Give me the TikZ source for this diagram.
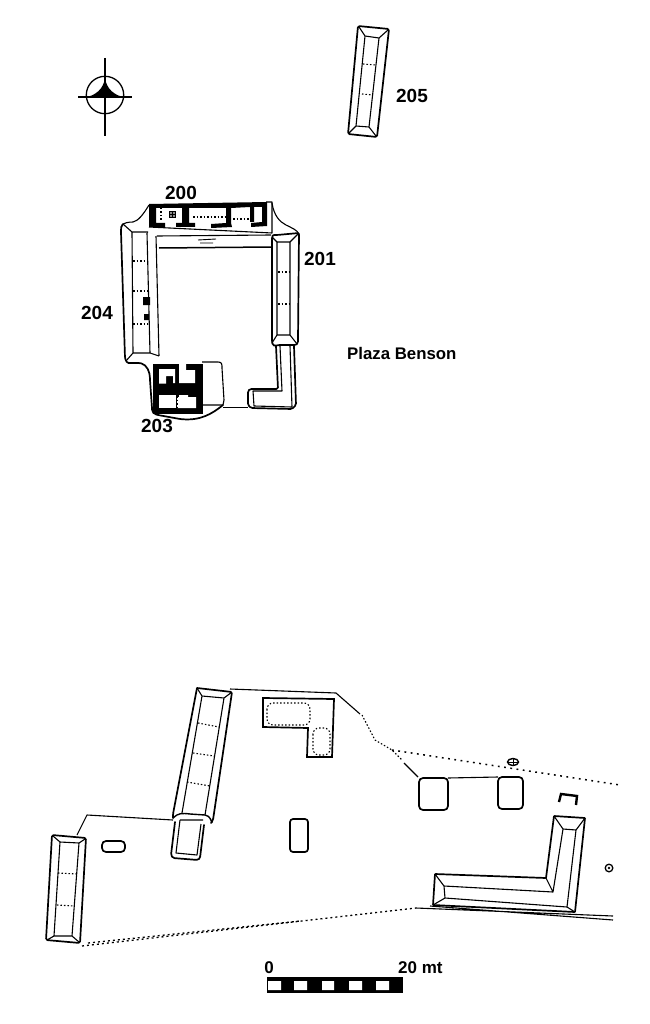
\documentclass[tikz,border=0pt]{standalone}
\usepackage{fontspec}
\setmainfont{Liberation Sans}
\tikzset{
 x=1pt,y=-1pt,
 lab/.style={font=\bfseries\fontsize{19}{19}\selectfont,inner sep=0pt},
 wall/.style={line width=1.7pt,line join=round,line cap=round,rounded corners=1.5pt},
 thin line/.style={line width=1.1pt,line join=round},
 dots/.style={line width=1.1pt,dash pattern=on 1.5pt off 2pt},
 bigdots/.style={line width=1.5pt,dash pattern=on 1.8pt off 4.5pt},
 basedots/.style={line width=1.3pt,dash pattern=on 2pt off 3pt},
}
\begin{document}
\begin{tikzpicture}
\useasboundingbox (0,0) rectangle (649,1024);
% north sign
\fill (105,76) .. controls (105,84) and (110,94) .. (123,97) -- (87,97) .. controls (100,94) and (105,84) .. (105,76) -- cycle;
\draw[line width=1.3pt] (105,95) circle (18.7);
\draw[line width=1.6pt] (105,58) -- (105,136) (78,97) -- (132,97);
% 205
\draw[wall] (358,26) -- (389,29) -- (377,137) -- (348,134) -- cycle;
\draw[thin line] (365,36) -- (379,38) -- (369,127) -- (356,126) -- cycle (359,27) -- (365,36) (388,30) -- (379,38) (369,127) -- (376,136) (356,126) -- (349,133);
\draw[dots] (363,64) -- (376,65) (362,94) -- (373,95);
\node[lab] (n205) at (412,96) {205};
% 200
\node[lab] (n200) at (181,193) {200};
\fill (149,204) -- (267,202) -- (267,226) -- (251,227) -- (251,223) -- (262,222) -- (262,207) -- (254,207) -- (254,222) -- (250,222) -- (250,207) -- (231,208) -- (231,223) -- (232,227) -- (211,228) -- (211,224) -- (226,223) -- (226,208) -- (189,208) -- (189,223) -- (195,223) -- (195,227) -- (176,227) -- (176,223) -- (182,223) -- (182,208) -- (156,208) -- (156,223) -- (165,223) -- (165,227) -- (149,227) -- cycle;
\draw[dots] (161,208) -- (161,222) (193,217) -- (225,217) (233,219) -- (250,219);
\draw[line width=0.5pt,fill=black!45] (169,211) rectangle (175,217);
\draw[line width=0.7pt] (172,211) -- (172,217) (169,214) -- (175,214);
\draw[thin line] (149,227) -- (272,233) -- (272,202) -- (266,202);
\draw[thin line] (149,205) .. controls (143,215) and (138,221) .. (133,222) .. controls (128,222) and (124,223) .. (122,225);
\draw[thin line] (272,203) .. controls (274,216) and (280,222) .. (286,225) .. controls (292,228) and (297,230) .. (299,234);
\draw[thin line] (157,236) -- (271,235);
\draw[line width=1.5pt] (159,248) -- (271,247);
\draw[line width=0.9pt] (198,240) -- (216,239) (200,243) -- (213,243);
% 204
\draw[wall] (123,224) .. controls (121,226) and (121,228) .. (121,232) -- (125,358) .. controls (126,361) and (127,363) .. (130,363) -- (140,363) .. controls (147,365) and (150,372) .. (150,380) -- (152,408) .. controls (152,412) and (154,414) .. (158,415) -- (180,419) .. controls (200,421) and (212,414) .. (223,405);
\draw[thin line] (132,232) -- (148,232) (147,233) -- (150,353) (156,236) -- (159,356) (132,232) -- (133,353) -- (150,353) -- (159,356) (123,224) -- (132,232) (133,353) -- (126,361);
\draw[dots] (133,261) -- (147,261) (133,291) -- (148,291) (133,324) -- (148,324);
\fill (143,297) rectangle (150,305) (144,314) rectangle (149,320);
\node[lab] (n204) at (97,313) {204};
% 201
\draw[wall] (272,237) .. controls (273,235) and (275,235) .. (277,235) -- (299,233) -- (298,340) .. controls (298,344) and (296,345) .. (293,345) -- (278,345) .. controls (275,346) and (273,346) .. (272,342) -- cycle;
\draw[thin line] (277,242) -- (290,242) -- (290,335) -- (277,335) -- cycle (272,237) -- (277,242) (299,233) -- (290,242) (277,335) -- (272,343) (290,335) -- (297,344);
\draw[dots] (278,272) -- (289,272) (278,304) -- (289,304);
\node[lab] (n201) at (320,259) {201};
% L platform
\draw[wall] (276,346) -- (278,389) -- (250,389) -- (248,391) -- (248,405) -- (251,408) -- (292,409) -- (296,405) -- (294,346);
\draw[thin line] (280,346) -- (282,391) -- (253,391) -- (254,406) -- (292,407) -- (290,346);
\draw[line width=0.9pt] (223,407) -- (248,407);
% 203
\fill (153,364) rectangle (203,414);
\fill[white] (159,369) rectangle (175,376) (159,376) rectangle (166,383.5) (173,376) rectangle (175,383);
\fill[white] (179,362) rectangle (186,383) (186,370) rectangle (195,383);
\fill[white] (159,395) rectangle (176,408);
\fill[white] (177,397) rectangle (196,408) (179,395) rectangle (188,397);
\draw[dots,line width=0.6pt] (177,396) -- (177,408);
\draw[thin line] (202,362) -- (218,362) .. controls (222,362) and (222,364) .. (222,368) -- (224,400) -- (223,405) -- (203,405);
\node[lab] (n203) at (157,426) {203};
\node[font=\bfseries\fontsize{16.8}{17}\selectfont,anchor=west,inner sep=0pt] (plaza) at (347,353) {Plaza Benson};
% lower left mound
\draw[wall] (52,835) -- (86,838) -- (80,943) -- (46,940) -- cycle;
\draw[thin line] (60,842) -- (79,843) -- (72,936) -- (54,936) -- cycle (53,836) -- (60,842) (85,839) -- (79,843) (54,936) -- (47,940) (72,936) -- (79,942);
\draw[dots] (58,873) -- (77,874) (57,905) -- (74,906);
% central mound
\draw[wall] (197,688) -- (232,692) -- (213,820) -- (211,823) (197,688) -- (173,814) -- (173,818);
\draw[thin line] (202,696) -- (224,698) -- (205,815) (202,696) -- (182,813) (197,688) -- (202,696) (232,692) -- (224,698);
\draw[line width=1.4pt] (173,818) .. controls (178,813) and (182,813) .. (190,814) -- (205,815) .. controls (210,816) and (211,820) .. (212,823);
\draw[dots] (198,723) -- (219,727) (193,753) -- (214,756) (187,782) -- (210,786);
% front platform
\draw[wall] (175,822) -- (171,855) -- (173,858) -- (198,860) -- (200,858) -- (204,825);
\draw[thin line] (180,820) -- (203,820) (180,820) -- (176,853) -- (197,855) -- (201,824);
% lines
\draw[thin line] (77,835) -- (87,815) -- (173,820);
\draw[thin line] (230,689) -- (336,693) -- (360,714);
\draw[dots] (362,715) -- (375,740) -- (392,750) -- (402,760);
\draw[bigdots] (392,750) -- (620,785);
\draw[thin line] (404,763) -- (418,777) (448,778) -- (498,777);
% dotted L building
\draw[line width=1.7pt,line join=miter] (263,698) -- (334,699) -- (332,757) -- (307,757) -- (308,728) -- (263,727) -- cycle;
\draw[dots,rounded corners=6pt] (267,703) rectangle (310,725);
\draw[dots,rounded corners=6pt] (313,728) rectangle (330,755);
% pills
\draw[wall,rounded corners=4pt] (102,841) rectangle (125,852);
\draw[wall,rounded corners=3pt] (290,819) rectangle (308,852);
\draw[wall,rounded corners=4pt] (419,778) rectangle (448,810);
\draw[wall,rounded corners=4pt] (498,777) rectangle (523,809);
% small symbols
\draw[line width=1.4pt] (513,762) ellipse (5.5 and 3.5);
\draw[line width=1pt] (513,759) -- (513,765) (508,762) -- (518,762);
\draw[line width=2.4pt] (559,802) -- (561,794) -- (577,796) -- (576,805);
\draw[line width=1.3pt] (609,868) circle (3.8);
\fill (609,868) circle (1.4);
% L mound
\draw[wall,rounded corners=0.5pt] (554,816) -- (585,818) -- (575,912) -- (433,905) -- (435,874) -- (546,878) -- cycle;
\draw[thin line] (563,829) -- (576,830) -- (567,907) -- (445,898) -- (444,886) -- (553,892) -- cycle (554,816) -- (563,829) (585,818) -- (576,830) (546,878) -- (553,892) (435,874) -- (444,886) (433,905) -- (445,898) (575,912) -- (567,907);
\draw[thin line] (416,908) -- (613,916) (430,906) -- (613,920);
% dense dotted base line
\draw[basedots] (82,946) -- (416,908);
\draw[basedots] (88,943) -- (300,921);
% scale
\node[lab,font=\bfseries\fontsize{17}{17}\selectfont] (s0) at (269,968) {0};
\node[lab,font=\bfseries\fontsize{17}{17}\selectfont,anchor=west] (s20) at (398,968) {20 mt};
\fill (267,977) rectangle (403,993);
\fill[white] (268,981) rectangle (281,990) (294,981) rectangle (307,990) (322,981) rectangle (334,990) (349,981) rectangle (362,990) (376,981) rectangle (389,990);
\end{tikzpicture}
\end{document}
